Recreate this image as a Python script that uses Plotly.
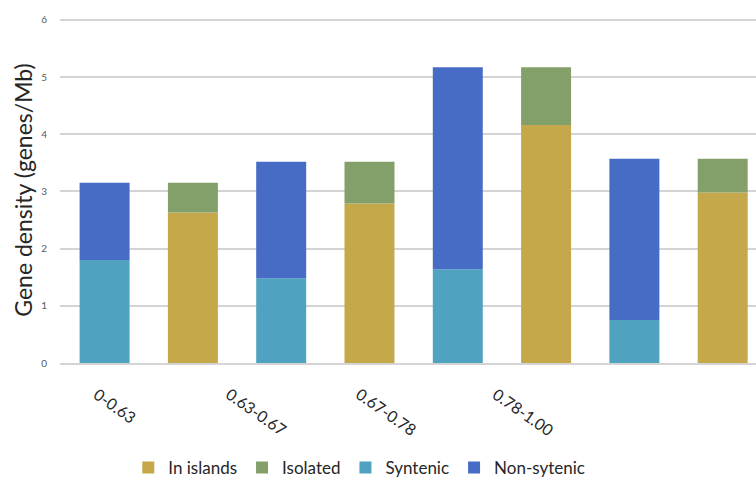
import plotly.graph_objects as go

# GC-content bins and gene density (genes/Mb) in each class
groups = ["0-0.63", "0.63-0.67", "0.67-0.78", "0.78-1.00"]
syntenic = [1.80, 1.48, 1.64, 0.75]
non_syntenic = [1.35, 2.04, 3.53, 2.82]
in_islands = [2.63, 2.79, 4.16, 2.98]
isolated = [0.52, 0.73, 1.01, 0.59]

# horizontal placement of the rotated bin labels (paper fraction)
label_x = [0.040, 0.230, 0.417, 0.613]

FONT = "Lato"
GRID = "#D4D4D4"

fig = go.Figure()

fig.add_trace(go.Bar(
    x=groups, y=syntenic, name="Syntenic", offsetgroup="a",
    marker=dict(color="#4FA2C0", line=dict(width=0)), legendrank=3,
))
fig.add_trace(go.Bar(
    x=groups, y=non_syntenic, base=syntenic, name="Non-sytenic", offsetgroup="a",
    marker=dict(color="#476CC6", line=dict(width=0)), legendrank=4,
))
fig.add_trace(go.Bar(
    x=groups, y=in_islands, name="In islands", offsetgroup="b",
    marker=dict(color="#C4A849", line=dict(width=0)), legendrank=1,
))
fig.add_trace(go.Bar(
    x=groups, y=isolated, base=in_islands, name="Isolated", offsetgroup="b",
    marker=dict(color="#84A06A", line=dict(width=0)), legendrank=2,
))

for text, xp in zip(groups, label_x):
    fig.add_annotation(
        text=text, x=xp, y=0, xref="paper", yref="paper",
        xanchor="left", yanchor="top", yshift=-18,
        textangle=35, showarrow=False,
        font=dict(family=FONT, size=16, color="#262626"),
    )

fig.update_layout(
    width=756, height=480,
    margin=dict(l=60, r=0, t=17, b=117, autoexpand=False),
    paper_bgcolor="white", plot_bgcolor="white",
    barmode="group", bargap=0.0, bargroupgap=0.434,
    font=dict(family=FONT, color="#262626"),
    showlegend=True,
    legend=dict(
        orientation="h", x=0.43, xanchor="center",
        yref="container", y=0.025, yanchor="middle",
        font=dict(family=FONT, size=17, color="#262626"),
        traceorder="normal", itemwidth=30,
    ),
    xaxis=dict(
        type="category", range=[-0.5025, 3.4386],
        showticklabels=False, showgrid=False, zeroline=False,
        showline=True, linecolor=GRID, linewidth=1.5,
        ticks="",
    ),
    yaxis=dict(
        range=[0, 6.05], dtick=1, tick0=0,
        showgrid=True, gridcolor=GRID, gridwidth=1.5,
        zeroline=False, showline=False, ticks="",
        tickfont=dict(family=FONT, size=10, color="#595959"),
        ticklabelstandoff=12,
        title=dict(text="Gene density (genes/Mb)", standoff=2,
                   font=dict(family=FONT, size=23, color="#262626")),
    ),
)

fig.write_html("out.html")
